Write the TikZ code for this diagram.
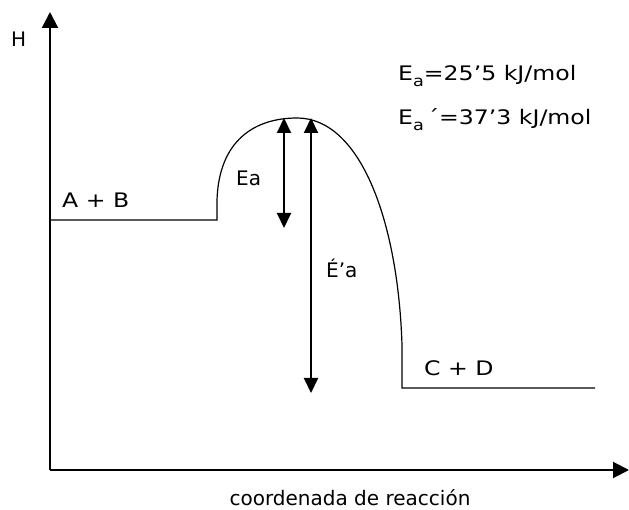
\documentclass[tikz,border=0pt]{standalone}
\usepackage{fontspec}
\setmainfont{DejaVu Sans}
\newfontfamily\widefont[FakeStretch=1.18]{DejaVu Sans}
\usetikzlibrary{arrows.meta}
\newcommand{\mysub}[1]{\raisebox{-0.3em}{\fontsize{15}{15}\selectfont #1}}
\begin{document}
\begin{tikzpicture}[x=1pt,y=-1pt,
  lbl/.style={font=\fontsize{20}{24}\selectfont, inner sep=0pt, anchor=base west},
  wlbl/.style={font=\widefont\fontsize{20}{24}\selectfont, inner sep=0pt, anchor=base west},
  axis/.style={line width=2pt, -{Triangle[length=16pt,width=16pt]}},
  dbl/.style={line width=2pt, {Triangle[length=15pt,width=14pt]}-{Triangle[length=15pt,width=14pt]}},
  curve/.style={line width=1.2pt}]
\useasboundingbox (0,0) rectangle (629,510);
\coordinate (O) at (50,470);
\coordinate (ytop) at (50,12);
\coordinate (xend) at (629,470);
\draw[axis] (O) -- (ytop);
\draw[axis] (O) -- (xend);
\node[lbl] (H) at (11,47) {H};
\node[wlbl] (ab) at (62,208) {A + B};
\node[wlbl] (cd) at (424,375) {C + D};
\node[lbl, anchor=base] (xl) at (350,505) {coordenada de reacción};
\node[wlbl] (ea1) at (398,81) {E\mysub{a}=25’5 kJ/mol};
\node[wlbl] (ea2) at (398,125) {E\mysub{a}\,´=37’3 kJ/mol};
\coordinate (a0) at (50,220);
\coordinate (a1) at (217,220);
\coordinate (a2) at (217,200);
\coordinate (pk) at (297,118);
\coordinate (c0) at (402,345);
\coordinate (c1) at (402,388);
\coordinate (c2) at (595,388);
\draw[curve] (a0) -- (a1) -- (a2) .. controls (219,140) and (255,118) .. (pk)
  .. controls (360,118) and (398,220) .. (c0) -- (c1) -- (c2);
\coordinate (e1t) at (284,118);
\coordinate (e1b) at (284,228);
\coordinate (e2t) at (311,118);
\coordinate (e2b) at (311,393);
\draw[dbl] (e1t) -- (e1b);
\draw[dbl] (e2t) -- (e2b);
\node[lbl] (ea) at (236,186) {Ea};
\node[lbl] (eap) at (326,278) {É’a};
\end{tikzpicture}
\end{document}
